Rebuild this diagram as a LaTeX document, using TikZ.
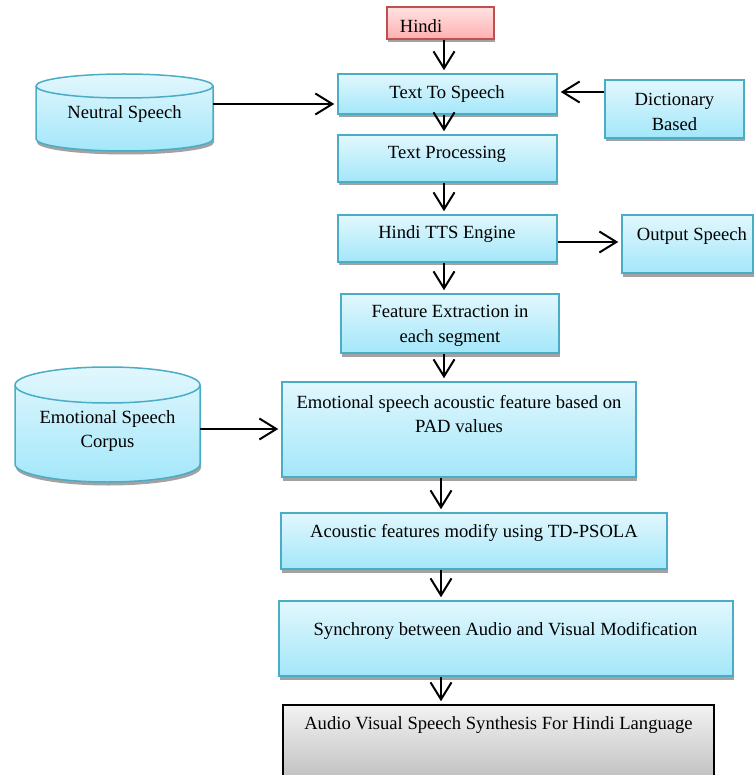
\documentclass[tikz,border=0pt]{standalone}
\usepackage{fontspec}
\setmainfont{Liberation Serif}
\usepackage{tikz}
\usetikzlibrary{arrows.meta}
\usetikzlibrary{shadows}

\definecolor{edgeblue}{HTML}{4BACC6}
\definecolor{bluetop}{HTML}{E2F7FD}
\definecolor{bluebottom}{HTML}{A3E7FA}
\definecolor{edgered}{HTML}{C0504D}
\definecolor{pinktop}{HTML}{FFE2E2}
\definecolor{pinkbottom}{HTML}{FFB0B0}
\definecolor{greytop}{HTML}{F2F2F2}
\definecolor{greybottom}{HTML}{BDBDBD}
\definecolor{shadowgrey}{HTML}{A2A2A2}

\begin{document}
\begin{tikzpicture}[x=1pt, y=-1pt,
    stage/.style={draw=edgeblue, line width=1.5pt, top color=bluetop, bottom color=bluebottom,
        drop shadow={shadow xshift=1pt, shadow yshift=-3.5pt, fill=shadowgrey, opacity=1},
        inner sep=0pt},
    lbl/.style={font=\fontsize{18.6}{24.5}\selectfont, align=center, inner sep=0pt},
    flow/.style={line width=2pt, -{Straight Barb[length=17pt, width=21pt]}, shorten >=3pt}]
    \useasboundingbox (0,0) rectangle (755,775);

    % stores
    \path[stage] (36,86) -- (36,139) arc[start angle=180, end angle=360, x radius=88.5pt, y radius=12pt]
        -- (213,86) arc[start angle=0, end angle=180, x radius=88.5pt, y radius=12pt] -- cycle;
    \draw[edgeblue, line width=1.5pt] (36,86) arc[start angle=180, end angle=360, x radius=88.5pt, y radius=12pt];
    \path[stage] (15,385) -- (15,464) arc[start angle=180, end angle=360, x radius=92.5pt, y radius=18pt]
        -- (200,385) arc[start angle=0, end angle=180, x radius=92.5pt, y radius=18pt] -- cycle;
    \draw[edgeblue, line width=1.5pt] (15,385) arc[start angle=180, end angle=360, x radius=92.5pt, y radius=18pt];

    % boxes
    \node[stage, draw=edgered, top color=pinktop, bottom color=pinkbottom,
        minimum width=107pt, minimum height=32pt] (hindi) at (440.5,23) {};
    \node[stage, minimum width=219pt, minimum height=40pt] (tts) at (447.5,94) {};
    \node[stage, minimum width=219pt, minimum height=47pt] (tp) at (447.5,158.5) {};
    \node[stage, minimum width=139pt, minimum height=58pt] (dict) at (674.5,109) {};
    \node[stage, minimum width=219pt, minimum height=47pt] (hte) at (447.5,238.5) {};
    \node[stage, minimum width=131pt, minimum height=58pt] (out) at (687.5,244) {};
    \node[stage, minimum width=218pt, minimum height=59pt] (fe) at (450,323.5) {};
    \node[stage, minimum width=354pt, minimum height=95pt] (emo) at (459,429.5) {};
    \node[stage, minimum width=386pt, minimum height=56pt] (acf) at (474,541) {};
    \node[stage, minimum width=454pt, minimum height=75pt] (sync) at (506,638.5) {};
    \node[stage, draw=black, top color=greytop, bottom color=greybottom,
        minimum width=431pt, minimum height=80pt] (avss) at (498.5,745) {};

    % texts
    \node[lbl, minimum width=177pt] (neutral) at (124.5,114) {Neutral Speech};
    \node[lbl, minimum width=185pt] (corpus) at (107.5,431) {Emotional Speech\\Corpus};
    \node[lbl] (hinditxt) at (421,26) {Hindi};
    \node[lbl] (ttstxt) at (447,94) {Text To Speech};
    \node[lbl] (tptxt) at (447,154) {Text Processing};
    \node[lbl] (dicttxt) at (674.5,112) {Dictionary\\Based};
    \node[lbl] (htetxt) at (447,234) {Hindi TTS Engine};
    \node[lbl] (outtxt) at (692,236) {Output Speech};
    \node[lbl] (fetxt) at (450,326) {Feature Extraction in\\each segment};
    \node[lbl] (emotxt) at (459,414) {Emotional speech acoustic feature based on\\PAD values};
    \node[lbl] (acftxt) at (474,533) {Acoustic features modify using TD-PSOLA};
    \node[lbl] (synctxt) at (505.5,631) {Synchrony between Audio and Visual Modification};
    \node[lbl] (avsstxt) at (498.5,725) {Audio Visual Speech Synthesis For Hindi Language};

    % arrows
    \coordinate (axis) at (444,0);
    \coordinate (axisb) at (441,0);
    \draw[flow] (axis |- hindi.south) -- (axis |- tts.north);
    \draw[flow] (axis |- tts.south) -- (axis |- tp.north);
    \draw[flow] (axis |- tp.south) -- (axis |- hte.north);
    \draw[flow] (axis |- hte.south) -- (axis |- fe.north);
    \draw[flow] (axis |- fe.south) -- (axis |- emo.north);
    \draw[flow] (axisb |- emo.south) -- (axisb |- acf.north);
    \draw[flow] (axisb |- acf.south) -- (axisb |- sync.north);
    \draw[flow] (axisb |- sync.south) -- (axisb |- avss.north);
    \coordinate (nsrow) at (0,104);
    \draw[flow] (neutral.east |- nsrow) -- (tts.west |- nsrow);
    \coordinate (dcrow) at (0,92);
    \draw[flow] (dict.west |- dcrow) -- (tts.east |- dcrow);
    \coordinate (oprow) at (0,242);
    \draw[flow] (hte.east |- oprow) -- (out.west |- oprow);
    \coordinate (cprow) at (0,429);
    \draw[flow] (corpus.east |- cprow) -- (emo.west |- cprow);
\end{tikzpicture}
\end{document}
